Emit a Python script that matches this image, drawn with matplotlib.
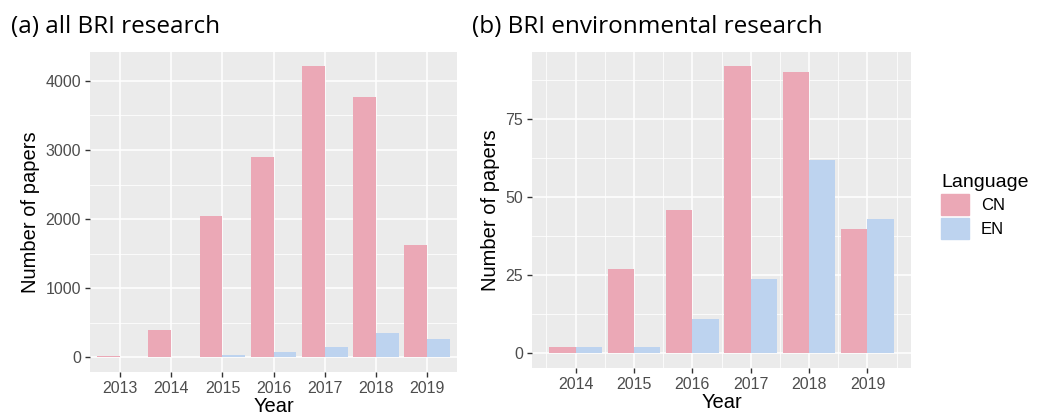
import matplotlib.pyplot as plt
import numpy as np

# panel (a) all BRI research
years_a = ["2013", "2014", "2015", "2016", "2017", "2018", "2019"]
cn_a = [25, 400, 2040, 2900, 4210, 3760, 1620]
en_a = [5, 8, 30, 85, 155, 355, 265]

# panel (b) BRI environmental research
years_b = ["2014", "2015", "2016", "2017", "2018", "2019"]
cn_b = [2, 27, 46, 92, 90, 40]
en_b = [2, 2, 11, 24, 62, 43]

languages = ["CN", "EN"]
colors = ["#EBA8B6", "#BDD3EF"]

plt.rcParams['font.family'] = ['Liberation Sans', 'DejaVu Sans']

fig = plt.figure(figsize=(10.44, 4.18), dpi=100)
ax1 = fig.add_axes([0.086, 0.110, 0.352, 0.766])
ax2 = fig.add_axes([0.5096, 0.120, 0.363, 0.756])


def gg_bars(ax, years, cn, en, major, minor, xpad, xminor):
    x = np.arange(len(years))
    ax.set_facecolor("#EBEBEB")
    for s in ax.spines.values():
        s.set_visible(False)
    ax.bar(x - 0.225, cn, width=0.45, color=colors[0], zorder=3)
    ax.bar(x + 0.225, en, width=0.45, color=colors[1], zorder=3)
    top = max(max(cn), max(en))
    ax.set_ylim(-0.05 * top, 1.05 * top)
    ax.set_xlim(-xpad, len(years) - 1 + xpad)
    ax.set_xticks(x)
    ax.set_xticklabels(years)
    ax.set_yticks(major)
    ax.set_yticks(minor, minor=True)
    if xminor:
        ax.set_xticks(np.r_[-0.5, x + 0.5], minor=True)
    ax.grid(which="major", color="white", linewidth=1.1, zorder=0)
    ax.grid(which="minor", color="white", linewidth=0.55, zorder=0)
    ax.tick_params(which="major", length=3.5, width=1, color="#333333",
                   labelsize=11.5, labelcolor="#4D4D4D", pad=3)
    ax.tick_params(which="minor", length=0)
    ax.set_axisbelow(True)
    ax.set_xlabel("Year", fontsize=14.5, labelpad=1)
    ax.set_ylabel("Number of papers", fontsize=14.5, labelpad=4)


gg_bars(ax1, years_a, cn_a, en_a, [0, 1000, 2000, 3000, 4000],
        [500, 1500, 2500, 3500], 0.6, False)
gg_bars(ax2, years_b, cn_b, en_b, [0, 25, 50, 75],
        [12.5, 37.5, 62.5, 87.5], 0.745, True)

fig.text(0.011, 0.935, "(a) all BRI research", fontsize=17.5,
         family=["Open Sans", "DejaVu Sans"], va="center")
fig.text(0.452, 0.935, "(b) BRI environmental research", fontsize=17.5,
         family=["Open Sans", "DejaVu Sans"], va="center")

handles = [plt.Rectangle((0, 0), 1, 1, color=c) for c in colors]
fig.legend(handles, languages, title="Language", loc="center left",
           bbox_to_anchor=(0.887, 0.505), frameon=False, fontsize=12,
           title_fontsize=14, handlelength=1.7, handleheight=1.6,
           handletextpad=0.7, labelspacing=0.15, alignment="left")

fig.savefig("out.png", dpi=100)
